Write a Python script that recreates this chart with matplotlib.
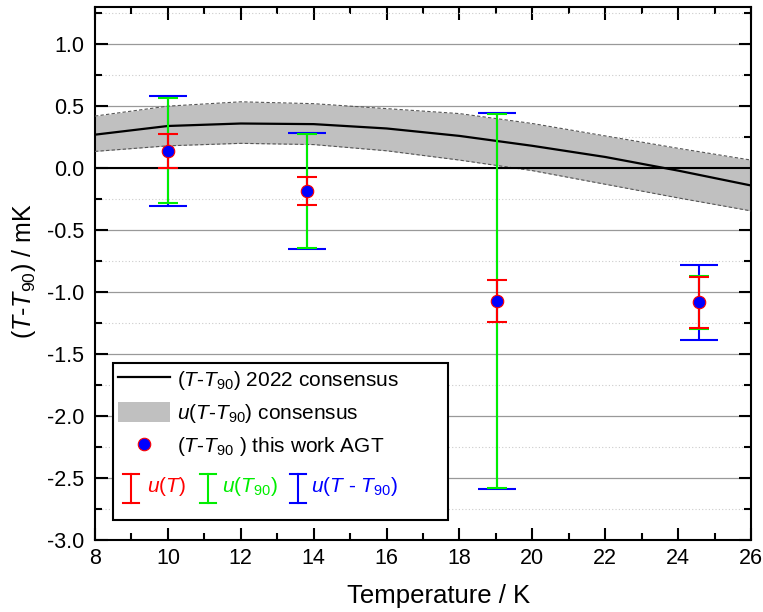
import numpy as np
import matplotlib
matplotlib.use('Agg')
import matplotlib.pyplot as plt
from matplotlib.ticker import MultipleLocator, FormatStrFormatter
from matplotlib.patches import Patch, Rectangle
from matplotlib.lines import Line2D

plt.rcParams['font.family'] = 'Liberation Sans'
plt.rcParams['mathtext.fontset'] = 'custom'
plt.rcParams['mathtext.rm'] = 'Liberation Sans'
plt.rcParams['mathtext.it'] = 'Liberation Sans:italic'
plt.rcParams['axes.unicode_minus'] = False

# 2022 consensus (T - T90) and its uncertainty band, mK
cons_T = [8, 10, 12, 14, 16, 18, 20, 22, 24, 26]
cons_dT = [0.27, 0.34, 0.36, 0.355, 0.32, 0.26, 0.18, 0.09, -0.02, -0.14]
cons_hi = [0.42, 0.50, 0.535, 0.52, 0.48, 0.44, 0.36, 0.26, 0.16, 0.065]
cons_lo = [0.135, 0.18, 0.20, 0.19, 0.14, 0.065, -0.02, -0.13, -0.24, -0.345]

# this work (AGT)
agt_T = [10.0, 13.82, 19.02, 24.58]
agt_dT = [0.14, -0.185, -1.07, -1.083]
u_T = [0.135, 0.11, 0.17, 0.205]
u_T90 = [0.425, 0.46, 1.51, 0.215]
u_diff = [0.445, 0.47, 1.515, 0.30]

fig = plt.figure(figsize=(7.63, 6.12), dpi=100)
ax = fig.add_axes([0.1245, 0.1176, 0.8598, 0.871])

ax.fill_between(cons_T, cons_lo, cons_hi, color='#c0c0c0', lw=0, zorder=2)
ax.plot(cons_T, cons_hi, ls=(0, (3, 2)), color='#555555', lw=0.8, zorder=3)
ax.plot(cons_T, cons_lo, ls=(0, (3, 2)), color='#555555', lw=0.8, zorder=3)
ax.plot(cons_T, cons_dT, color='black', lw=1.6, zorder=4)
ax.axhline(0, color='black', lw=1.5, zorder=3)

ax.errorbar(agt_T, agt_dT, yerr=u_diff, fmt='none', ecolor='blue',
            elinewidth=1.5, capsize=14, capthick=1.5, zorder=5)
ax.errorbar(agt_T, agt_dT, yerr=u_T90, fmt='none', ecolor='#00ee00',
            elinewidth=1.5, capsize=7, capthick=1.5, zorder=6)
ax.errorbar(agt_T, agt_dT, yerr=u_T, fmt='none', ecolor='red',
            elinewidth=1.5, capsize=7, capthick=1.5, zorder=7)
ax.plot(agt_T, agt_dT, 'o', ms=9, mfc='blue', mec='red', mew=0.8, zorder=8)

ax.set_xlim(8, 26)
ax.set_ylim(-3.0, 1.3)
ax.xaxis.set_major_locator(MultipleLocator(2))
ax.xaxis.set_minor_locator(MultipleLocator(1))
ax.yaxis.set_minor_locator(MultipleLocator(0.25))
ax.set_yticks(np.arange(-3.0, 1.01, 0.5))
ax.yaxis.set_major_formatter(FormatStrFormatter('%.1f'))
ax.tick_params(which='both', direction='in', top=True, right=True,
               labelsize=15.5, width=1.5)
ax.tick_params(which='major', length=9)
ax.tick_params(which='minor', length=5)
ax.tick_params(axis='y', pad=8)
ax.tick_params(axis='x', pad=6)
for s in ax.spines.values():
    s.set_linewidth(1.5)
ax.grid(axis='y', which='major', color='#999999', lw=0.9, zorder=1)
ax.grid(axis='y', which='minor', color='#cccccc', lw=0.8, ls=(0, (1, 2)), zorder=1)
ax.set_axisbelow(True)

ax.set_xlabel('Temperature / K', fontsize=18.5)
ax.xaxis.set_label_coords(0.523, -0.083)
ax.set_ylabel('($T$-$T_{90}$) / mK', fontsize=18)
ax.yaxis.set_label_coords(-0.087, 0.505)

# legend frame, drawn by hand so it can hold the extra errorbar row
ax.add_patch(Rectangle((0.027, 0.0375), 0.511, 0.2945, transform=ax.transAxes,
                       facecolor='white', edgecolor='black', lw=1.5,
                       zorder=9, clip_on=False))

handles = [
    Line2D([], [], color='black', lw=1.6),
    Patch(facecolor='#c0c0c0', edgecolor='none'),
    Line2D([], [], ls='none', marker='o', ms=9, mfc='blue', mec='red', mew=0.8),
]
labels = ['($T$-$T_{90}$) 2022 consensus', '$u$($T$-$T_{90}$) consensus',
          '($T$-$T_{90}$ ) this work AGT']
leg = ax.legend(handles, labels, loc='upper left', bbox_to_anchor=(0.027, 0.332),
                fontsize=15, frameon=False, handlelength=2.5, handleheight=1.15,
                handletextpad=0.35, borderpad=0.25, borderaxespad=0,
                labelspacing=0.48)
leg.set_zorder(10)

# bottom legend row: uncertainty components
row_y = 0.096
items = [(0.055, 0.079, 'red', '$u$($T$)'),
         (0.172, 0.194, '#00ee00', '$u$($T_{90}$)'),
         (0.309, 0.329, 'blue', '$u$($T$ - $T_{90}$)')]
for x0, xt, col, txt in items:
    ax.plot([x0, x0], [row_y - 0.027, row_y + 0.027], color=col, lw=1.5,
            transform=ax.transAxes, zorder=11, clip_on=False)
    for yy in (row_y - 0.027, row_y + 0.027):
        ax.plot([x0 - 0.012, x0 + 0.012], [yy, yy], color=col, lw=1.5,
                transform=ax.transAxes, zorder=11, clip_on=False)
    ax.text(xt, row_y + 0.004, txt, color=col, fontsize=15, va='center',
            ha='left', transform=ax.transAxes, zorder=11)

fig.savefig('out.png', dpi=100)
